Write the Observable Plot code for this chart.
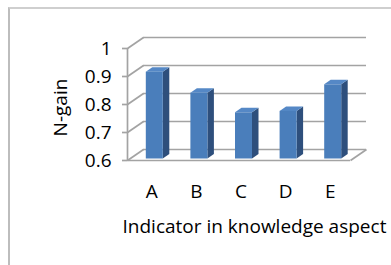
<!DOCTYPE html>
<html>
<head>
<meta charset="utf-8">
<script src="https://cdn.jsdelivr.net/npm/d3@7"></script>
<script src="https://cdn.jsdelivr.net/npm/@observablehq/plot@0.6"></script>
<style>
  html, body { margin: 0; padding: 0; background: #fff; overflow: hidden; }
  #wrap { position: relative; width: 391px; height: 265px; }
  #frame { position: absolute; left: 8px; top: 7px; width: 400px; height: 300px;
           border-left: 2px solid #bdbdbd; border-top: 2px solid #cfcfcf; }
  #chart { position: absolute; left: 0; top: 0; }
</style>
</head>
<body>
<div id="wrap"><div id="frame"></div><div id="chart"></div></div>
<script>
const categories = ["A", "B", "C", "D", "E"];
const values = [0.91, 0.835, 0.765, 0.77, 0.865];
const yTicks = [0.6, 0.7, 0.8, 0.9, 1];
const yLabels = ["0.6", "0.7", "0.8", "0.9", "1"];
const xTitle = "Indicator in knowledge aspect";
const yTitle = "N-gain";

const W = 391, H = 265;
const mL = 127, mR = 41, mT = 48, mB = 105;
const yMin = 0.6, yMax = 1;
const pxPerX = (W - mL - mR) / categories.length;
const pxPerY = (H - mT - mB) / (yMax - yMin);

// perspective depth of the walls (pixels) converted to data units
const wallDX = 16 / pxPerX, wallDY = 11 / pxPerY;
// bar depth
const barDX = 6.5 / pxPerX, barDY = 4.5 / pxPerY;
const half = 8.5 / pxPerX;
const tickLen = 5 / pxPerX;
const x0 = -0.5, x1 = categories.length - 0.5;

const bars = categories.map((c, i) => ({c, i, v: values[i]}));
const sides = bars.flatMap(b => [
  {i: b.i, x: b.i + half, y1: yMin, y2: b.v},
  {i: b.i, x: b.i + half + barDX, y1: yMin + barDY, y2: b.v + barDY}
]);
const tops = bars.flatMap(b => [
  {i: b.i, y: b.v, x1: b.i - half, x2: b.i + half},
  {i: b.i, y: b.v + barDY, x1: b.i - half + barDX, x2: b.i + half + barDX}
]);
const connectors = yTicks.map(t => ({x1: x0, y1: t, x2: x0 + wallDX, y2: t + wallDY}));

const grid = "#a3a3a3";
const font = "'Open Sans', sans-serif";
const fs = 19;

const chart = Plot.plot({
  width: W, height: H,
  marginLeft: mL, marginRight: mR, marginTop: mT, marginBottom: mB,
  style: {fontFamily: font, fontSize: fs + "px", color: "#000", background: "transparent"},
  x: {type: "linear", domain: [x0, x1], axis: null},
  y: {domain: [yMin, yMax], axis: null},
  marks: [
    Plot.ruleY(yTicks, {y: d => d + wallDY, x1: x0 + wallDX, x2: x1 + wallDX, stroke: grid, strokeWidth: 1.7}),
    Plot.link(connectors, {x1: "x1", y1: "y1", x2: "x2", y2: "y2", stroke: grid, strokeWidth: 1.7}),
    Plot.link([0], {x1: x1, y1: yMin, x2: x1 + wallDX, y2: yMin + wallDY, stroke: grid, strokeWidth: 1.7}),
    Plot.ruleY([yMin], {x1: x0, x2: x1, stroke: grid, strokeWidth: 1.7}),
    Plot.ruleX([x0], {y1: yMin, y2: yMax, stroke: grid, strokeWidth: 1.7}),
    Plot.ruleY(yTicks, {y: d => d, x1: x0 - tickLen, x2: x0, stroke: grid, strokeWidth: 1.7}),
    Plot.areaY(sides, {x: "x", y1: "y1", y2: "y2", z: "i", fill: "#2e4f7c", dx: 5, dy: -1.5}),
    Plot.areaX(tops, {y: "y", x1: "x1", x2: "x2", z: "i", fill: "#5588c6", dx: 5, dy: -1.5}),
    Plot.rectY(bars, {x1: d => d.i - half, x2: d => d.i + half, y1: yMin, y2: "v", fill: "#4a7ebb", dx: 5, dy: -1.5}),
    Plot.text(yTicks, {x: x0, y: d => d, text: (d, i) => yLabels[i], textAnchor: "end", dx: -16, fontSize: fs}),
    Plot.text(bars, {x: "i", y: yMin, text: "c", dy: 31, dx: 2, fontSize: fs}),
    Plot.text([xTitle], {x: x0, y: yMin, text: d => d, textAnchor: "start", dx: -5, dy: 66, fontSize: fs}),
    Plot.text([yTitle], {frameAnchor: "left", textAnchor: "middle", text: d => d, rotate: -90, dx: -67, dy: 3, fontSize: fs})
  ]
});
document.getElementById("chart").appendChild(chart);
</script>
</body>
</html>
